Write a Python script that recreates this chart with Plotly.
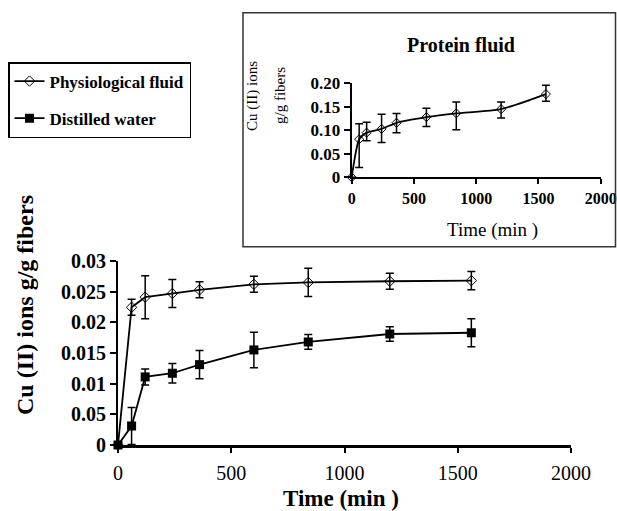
import plotly.graph_objects as go

W, H = 617, 511

# ---- data ----
time_min = [0, 60, 120, 240, 360, 600, 840, 1200, 1560]
physiological = [0, 0.02245, 0.0241, 0.0247, 0.0253, 0.0262, 0.0265, 0.0267, 0.0268]
physiological_err = [0, 0.0013, 0.0035, 0.0023, 0.0013, 0.0013, 0.0023, 0.0013, 0.0015]
distilled = [0, 0.0031, 0.0111, 0.0117, 0.0131, 0.0155, 0.0168, 0.0181, 0.0183]
distilled_err = [0, 0.0030, 0.0013, 0.0016, 0.0023, 0.0029, 0.0012, 0.0012, 0.0023]
protein = [0, 0.081, 0.095, 0.103, 0.116, 0.128, 0.136, 0.145, 0.177]
protein_err_plus = [0, 0.033, 0.022, 0.031, 0.020, 0.019, 0.024, 0.015, 0.019]
protein_err_minus = [0, 0.060, 0.017, 0.029, 0.021, 0.020, 0.035, 0.019, 0.015]

main_xticks = [0, 500, 1000, 1500, 2000]
main_yticks = [0, 0.005, 0.01, 0.015, 0.02, 0.025, 0.03]
main_yticklabels = ["0", "0.05", "0.01", "0.015", "0.02", "0.025", "0.03"]
inset_yticks = [0, 0.05, 0.10, 0.15, 0.20]
inset_yticklabels = ["0", "0.05", "0.10", "0.15", "0.20"]

SERIF = "Liberation Serif, Times New Roman, serif"


def px(x):
    return x / W


def py(y):
    return 1 - y / H


fig = go.Figure()

err_style = dict(color="black", thickness=1.5, width=4)

fig.add_trace(go.Scatter(
    x=time_min, y=physiological, name="Physiological fluid",
    mode="lines+markers",
    line=dict(color="black", width=1.8),
    marker=dict(symbol="diamond-open", size=8, color="black", line=dict(width=1)),
    error_y=dict(type="data", array=physiological_err, visible=True, **err_style),
    cliponaxis=False, legendgroup="a",
    xaxis="x", yaxis="y",
))
fig.add_trace(go.Scatter(
    x=time_min, y=distilled, name="Distilled water",
    mode="lines+markers",
    line=dict(color="black", width=1.8),
    marker=dict(symbol="square", size=9, color="black"),
    error_y=dict(type="data", array=distilled_err, visible=True, **err_style),
    cliponaxis=False, legendgroup="b",
    xaxis="x", yaxis="y",
))
fig.add_trace(go.Scatter(
    x=time_min, y=protein, name="Protein fluid",
    mode="lines+markers",
    line=dict(color="black", width=1.8, shape="spline", smoothing=0.6),
    marker=dict(symbol="diamond-open", size=7, color="black", line=dict(width=1)),
    error_y=dict(type="data", symmetric=False, array=protein_err_plus,
                 arrayminus=protein_err_minus, visible=True, **err_style),
    cliponaxis=False, showlegend=False,
    xaxis="x2", yaxis="y2",
))

axis_common = dict(showgrid=False, zeroline=False, showline=True, linecolor="black",
                   ticks="outside", tickcolor="black", automargin=False)

fig.update_layout(
    width=W, height=H,
    margin=dict(l=0, r=0, t=0, b=0, autoexpand=False),
    paper_bgcolor="white", plot_bgcolor="rgba(0,0,0,0)",
    font=dict(family=SERIF, color="black"),
    xaxis=dict(domain=[px(118), px(571)], range=[0, 2000], tickvals=main_xticks,
               linewidth=2.5, ticklen=5, tickwidth=2, anchor="y",
               tickfont=dict(size=20, family=SERIF), ticklabelstandoff=3,
               **axis_common),
    yaxis=dict(domain=[py(445), py(261)], range=[0, 0.03], tickvals=main_yticks,
               ticktext=main_yticklabels, linewidth=2, ticklen=6, tickwidth=2,
               anchor="x",
               tickfont=dict(size=20, family=SERIF, weight="bold"),
               **axis_common),
    xaxis2=dict(domain=[px(351.7), px(600.7)], range=[0, 2000], tickvals=main_xticks,
                linewidth=2, ticklen=5, tickwidth=2, anchor="y2",
                tickfont=dict(size=16, family=SERIF, weight="bold"),
                **axis_common),
    yaxis2=dict(domain=[py(177.3), py(83.3)], range=[0, 0.2], tickvals=inset_yticks,
                ticktext=inset_yticklabels, linewidth=2, ticklen=6, tickwidth=2,
                anchor="x2",
                tickfont=dict(size=17, family=SERIF, weight="bold"),
                **axis_common),
    legend=dict(xref="container", yref="container", x=px(8), y=py(62),
                xanchor="left", yanchor="top",
                bordercolor="black", borderwidth=1.5, bgcolor="white",
                font=dict(size=17, family=SERIF, weight="bold", color="black"),
                tracegroupgap=12, itemwidth=30),
    showlegend=True,
)

annotations = [
    dict(text="Time (min )", x=px(341), y=py(498.5), font=dict(size=23, weight="bold")),
    dict(text="Cu (II) ions g/g fibers", x=px(25), y=py(305), textangle=-90,
         font=dict(size=24, weight="bold")),
    dict(text="Protein fluid", x=px(461), y=py(45), font=dict(size=20, weight="bold")),
    dict(text="Time (min )", x=px(492), y=py(230), font=dict(size=19)),
    dict(text="Cu (II) ions", x=px(252), y=py(96), textangle=-90, font=dict(size=15)),
    dict(text="g/g fibers", x=px(280), y=py(96), textangle=-90, font=dict(size=15)),
]
for a in annotations:
    a.update(xref="paper", yref="paper", showarrow=False, xanchor="center", yanchor="middle")
    a["font"] = dict(family=SERIF, color="black", **a["font"])
fig.update_layout(annotations=annotations)

fig.add_shape(type="rect", xref="paper", yref="paper",
              x0=px(243), x1=px(615.5), y0=py(246.7), y1=py(12.7),
              line=dict(color="#333333", width=1.5), fillcolor="rgba(0,0,0,0)")

fig.write_html("out.html", config={"displayModeBar": False},
               post_script="document.body.style.margin='0';document.body.style.overflow='hidden';")
